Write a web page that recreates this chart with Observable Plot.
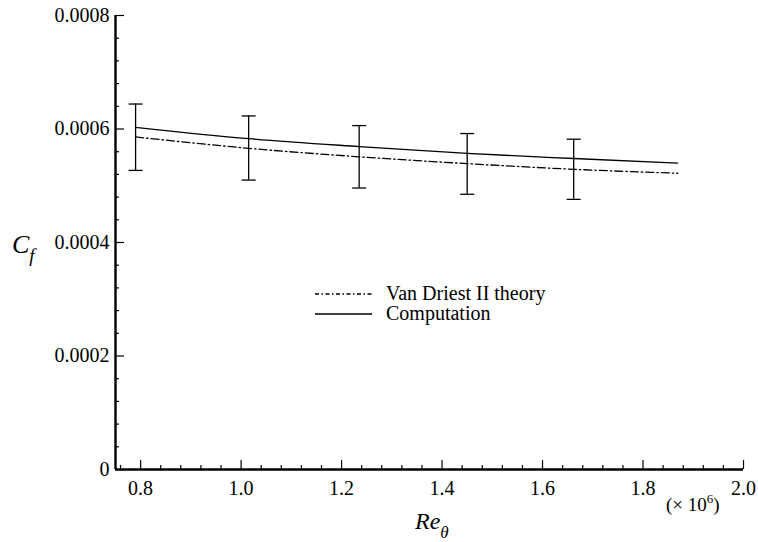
<!DOCTYPE html>
<html><head><meta charset="utf-8">
<script src="https://cdn.jsdelivr.net/npm/d3@7"></script>
<script src="https://cdn.jsdelivr.net/npm/@observablehq/plot@0.6"></script>
<style>
body{margin:0;background:#fff;}
#chart svg{display:block;}
#chart svg text{font-family:'Liberation Serif','Times New Roman',serif;}
</style></head><body><div id="chart"></div>
<script>
// Curve samples (Re_theta in units of 10^6)
const reTheta = [0.79, 1.015, 1.235, 1.45, 1.662, 1.869];
const cfComputation = [0.000603, 0.000583, 0.000569, 0.000557, 0.000548, 0.000540];
const cfVanDriest = [0.000586, 0.000566, 0.000551, 0.000539, 0.000529, 0.000522];
// Error bars (around Van Driest II theory)
const errRe = [0.79, 1.015, 1.235, 1.45, 1.662];
const errHigh = [0.000644, 0.000623, 0.000606, 0.000592, 0.000582];
const errLow = [0.000527, 0.000510, 0.000496, 0.000485, 0.000476];
// Ticks
const xMajor = [0.8, 1.0, 1.2, 1.4, 1.6, 1.8, 2.0];
const xMinor = d3.range(0, 32).map(i => +(0.76 + i * 0.04).toFixed(2)).filter(v => v <= 2.0 && !xMajor.some(m => Math.abs(m - v) < 1e-9));
const yMajor = [0, 0.0002, 0.0004, 0.0006, 0.0008];
const yMinor = d3.range(0, 21).map(i => +(i * 0.00004).toFixed(5)).filter(v => !yMajor.some(m => Math.abs(m - v) < 1e-9));
const legendLabels = ["Van Driest II theory", "Computation"];

const comp = reTheta.map((x, i) => ({x, y: cfComputation[i]}));
const theory = reTheta.map((x, i) => ({x, y: cfVanDriest[i]}));
const errs = errRe.map((x, i) => ({x, lo: errLow[i], hi: errHigh[i]}));

const W = 758, H = 542, mL = 115, mR = 15, mT = 15, mB = 73;
const fw = W - mL - mR, fh = H - mT - mB;
const dashDot = "8,3,1.5,3";
const capSymbol = {draw(ctx, size) { const h = Math.sqrt(size / Math.PI); ctx.moveTo(-h, 0); ctx.lineTo(h, 0); }};
const font = "'Liberation Serif','Times New Roman',serif";

const plot = Plot.plot({
  width: W, height: H, marginLeft: mL, marginRight: mR, marginTop: mT, marginBottom: mB,
  style: {fontFamily: font, fontSize: "20px", color: "#000", background: "#fff"},
  x: {domain: [0.75, 2.0]},
  y: {domain: [0, 0.0008]},
  marks: [
    Plot.axisX({ticks: xMajor, tickSize: 0, tickPadding: 11, tickFormat: d => d.toFixed(1), label: null}),
    Plot.axisY({ticks: yMajor, tickSize: 0, tickPadding: 6, tickFormat: d => d === 0 ? "0" : d.toFixed(4), label: null}),
    Plot.tickY(yMinor, {y: d => d, insetRight: fw - 4, stroke: "#000", strokeWidth: 1.2}),
    Plot.tickY(yMajor, {y: d => d, insetRight: fw - 9, stroke: "#000", strokeWidth: 1.2}),
    Plot.tickX(xMinor, {x: d => d, insetTop: fh - 4, stroke: "#000", strokeWidth: 1.2}),
    Plot.tickX(xMajor, {x: d => d, insetTop: fh - 9, stroke: "#000", strokeWidth: 1.2}),
    Plot.ruleX([0.75], {stroke: "#000", strokeWidth: 2.4}),
    Plot.ruleY([0], {stroke: "#000", strokeWidth: 2.4}),
    Plot.line(comp, {x: "x", y: "y", stroke: "#000", strokeWidth: 1.3, curve: "monotone-x"}),
    Plot.line(theory, {x: "x", y: "y", stroke: "#000", strokeWidth: 1.3, strokeDasharray: dashDot, curve: "monotone-x"}),
    Plot.ruleX(errs, {x: "x", y1: "lo", y2: "hi", stroke: "#000", strokeWidth: 1.3}),
    Plot.dot(errs, {x: "x", y: "hi", symbol: capSymbol, r: 7, fill: "none", stroke: "#000", strokeWidth: 1.3}),
    Plot.dot(errs, {x: "x", y: "lo", symbol: capSymbol, r: 7, fill: "none", stroke: "#000", strokeWidth: 1.3})
  ]
});
document.getElementById("chart").append(plot);

const svg = d3.select(plot);
// Legend
const leg = svg.append("g").attr("font-family", font).attr("font-size", 20).attr("fill", "#000").attr("text-anchor", "start");
const legY = [294, 314];
legendLabels.forEach((t, i) => {
  leg.append("line").attr("x1", 315).attr("x2", 372).attr("y1", legY[i]).attr("y2", legY[i])
    .attr("stroke", "#000").attr("stroke-width", 1.3).attr("stroke-dasharray", i === 0 ? "4,2.5,1.5,2.5" : null);
  leg.append("text").attr("x", 386).attr("y", legY[i] + 6).text(t);
});
// Axis labels
const cf = svg.append("text").attr("x", 12).attr("y", 253).attr("text-anchor", "start").attr("font-family", font).attr("font-style", "italic").attr("font-size", 26).attr("fill", "#000");
cf.append("tspan").text("C");
cf.append("tspan").attr("font-size", 19).attr("dy", 9).text("f");
const re = svg.append("text").attr("x", 415).attr("y", 529).attr("text-anchor", "start").attr("font-family", font).attr("font-style", "italic").attr("font-size", 24).attr("fill", "#000");
re.append("tspan").text("Re");
re.append("tspan").attr("font-size", 17).attr("dy", 9).text("θ");
const mult = svg.append("text").attr("x", 666).attr("y", 511).attr("text-anchor", "start").attr("font-family", font).attr("font-size", 19).attr("fill", "#000");
mult.append("tspan").text("(× 10");
mult.append("tspan").attr("font-size", 13).attr("dy", -8).text("6");
mult.append("tspan").attr("dy", 8).text(")");
</script></body></html>
